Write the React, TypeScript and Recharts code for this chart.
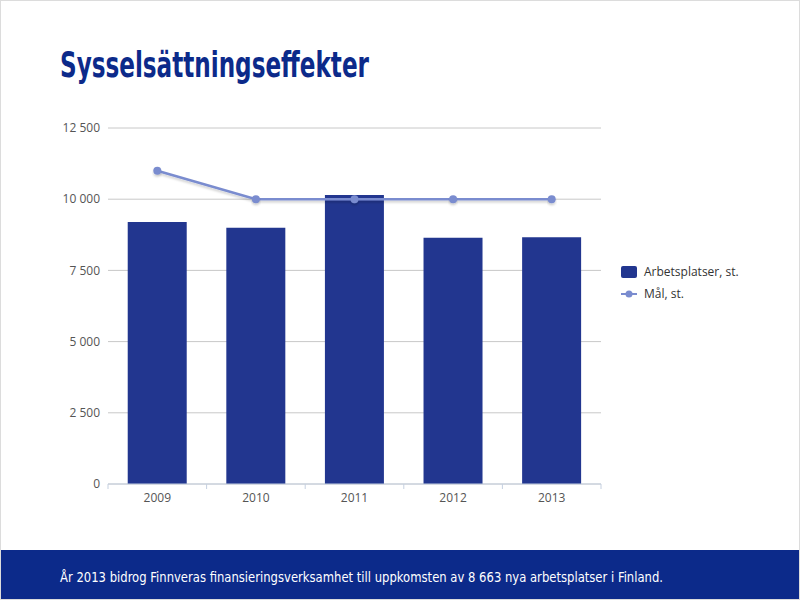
import { ComposedChart, Bar, Line, XAxis, YAxis, CartesianGrid } from 'recharts';

const years = ['2009', '2010', '2011', '2012', '2013'];
const jobs = [9200, 9000, 10150, 8650, 8663];
const target = [11000, 10000, 10000, 10000, 10000];
const yTicks = [0, 2500, 5000, 7500, 10000, 12500];
const seriesNames = { jobs: 'Arbetsplatser, st.', target: 'Mål, st.' };
const title = 'Sysselsättningseffekter';
const footer = 'År 2013 bidrog Finnveras finansieringsverksamhet till uppkomsten av 8 663 nya arbetsplatser i Finland.';

const data = years.map((y, i) => ({ year: y, jobs: jobs[i], target: target[i] }));

const BAR = '#22368f';
const LINE = '#7a8ccf';
const NAVY = '#0c2a8a';

const CHART_W = 800;
const M_LEFT = 107;
const M_RIGHT = 200;
const band = (CHART_W - M_LEFT - M_RIGHT) / years.length;

const fmt = (v: number) => String(v).replace(/\B(?=(\d{3})+(?!\d))/g, ' ');

const XTick = (props: any) => {
  const { x, y, payload, index } = props;
  return (
    <g>
      <line x1={x + band / 2} x2={x + band / 2} y1={y - 8} y2={y - 3} stroke="#c5d0e0" />
      {index === 0 && <line x1={x - band / 2} x2={x - band / 2} y1={y - 8} y2={y - 3} stroke="#c5d0e0" />}
      <text x={x} y={y + 10} textAnchor="middle" fontSize={12} fill="#555" fontFamily="'Open Sans', sans-serif">
        {payload.value}
      </text>
    </g>
  );
};

export default function App() {
  return (
    <div style={{ position: 'absolute', left: 0, top: 0, width: 800, height: 600, background: '#fff', border: '1px solid #dcdcdc', boxSizing: 'border-box', overflow: 'hidden' }}>
      <svg width={800} height={100} style={{ position: 'absolute', left: 0, top: 0 }}>
        <text x={59} y={76} fontSize={35} fontWeight="bold" fill={NAVY} fontFamily="'DejaVu Sans Condensed', sans-serif"
          textLength={309} lengthAdjust="spacingAndGlyphs">{title}</text>
      </svg>
      <div style={{ position: 'absolute', left: 0, top: 0 }}>
        <ComposedChart width={CHART_W} height={509} data={data} margin={{ top: 127, right: M_RIGHT, bottom: 0, left: 0 }} barCategoryGap="20%">
          <defs>
            <filter id="lineShadow" x="-5%" y="-50%" width="110%" height="200%">
              <feDropShadow dx={0} dy={2} stdDeviation={1.2} floodColor="#000" floodOpacity={0.18} />
            </filter>
          </defs>
          <CartesianGrid vertical={false} stroke="#c8c8c8" />
          <XAxis dataKey="year" height={26} axisLine={{ stroke: '#c5d0e0' }} tickLine={false} tick={<XTick />} interval={0} />
          <YAxis width={M_LEFT} domain={[0, 12500]} ticks={yTicks} axisLine={false} tickLine={false}
            tickFormatter={fmt} tick={{ fontSize: 12, fill: '#555', fontFamily: "'Open Sans', sans-serif" }} />
          <Bar dataKey="jobs" name={seriesNames.jobs} fill={BAR} isAnimationActive={false} />
          <Line dataKey="target" name={seriesNames.target} type="linear" stroke={LINE} strokeWidth={2.5}
            dot={{ r: 4, fill: LINE, stroke: LINE, strokeWidth: 0 }} style={{ filter: 'url(#lineShadow)' }} isAnimationActive={false} />
        </ComposedChart>
      </div>
      <div style={{ position: 'absolute', left: 620, top: 260, fontFamily: "'Open Sans', sans-serif", fontSize: 12, color: '#333', lineHeight: '22px' }}>
        <div style={{ display: 'flex', alignItems: 'center' }}>
          <svg width={18} height={14} style={{ marginRight: 5 }}><rect x={0} y={1} width={16} height={12} rx={2} fill={BAR} /></svg>
          {seriesNames.jobs}
        </div>
        <div style={{ display: 'flex', alignItems: 'center' }}>
          <svg width={18} height={14} style={{ marginRight: 5 }}>
            <line x1={0} x2={16} y1={7} y2={7} stroke={LINE} strokeWidth={2} />
            <circle cx={8} cy={7} r={3.5} fill={LINE} />
          </svg>
          {seriesNames.target}
        </div>
      </div>
      <div style={{ position: 'absolute', left: 0, top: 549, width: 800, height: 50, background: NAVY }}>
        <svg width={800} height={50}>
          <text x={59} y={32} fontSize={14} fill="#fff" fontFamily="'DejaVu Sans Condensed', sans-serif"
            textLength={603} lengthAdjust="spacingAndGlyphs">{footer}</text>
        </svg>
      </div>
    </div>
  );
}
